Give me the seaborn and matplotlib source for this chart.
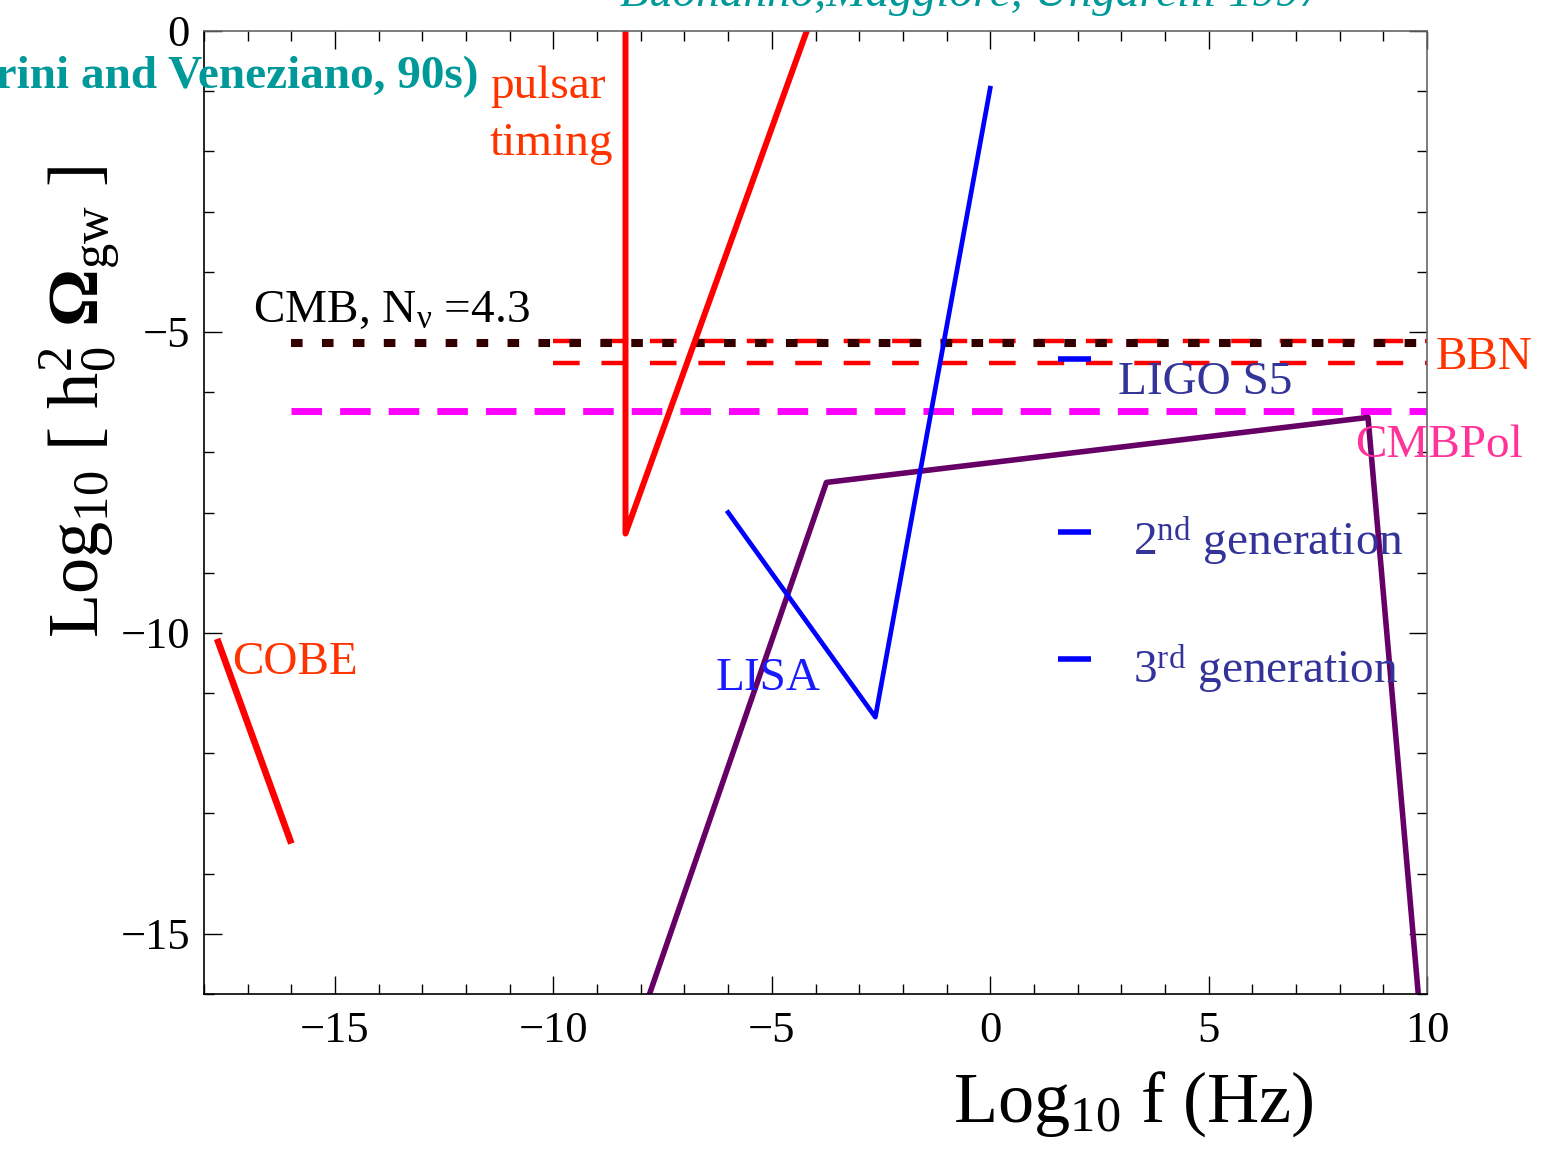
import matplotlib
matplotlib.use("Agg")
import matplotlib.pyplot as plt
import seaborn as sns
from matplotlib.ticker import MultipleLocator, FixedLocator

# ---------------- data ----------------
cobe_x = [-17.7, -16.0]
cobe_y = [-10.1, -13.5]

pulsar_x = [-8.35, -8.35, -4.2]
pulsar_y = [0.0, -8.35, 0.0]

lisa_x = [-6.0, -2.63, 0.0]
lisa_y = [-8.0, -11.4, -0.95]

theory_x = [-7.8, -3.75, 8.65, 9.8]
theory_y = [-16.0, -7.5, -6.42, -16.0]

cmb_x = [-16.0, 10.0]
cmb_y = [-5.19, -5.19]

bbn_x = [-10.0, 10.0]
bbn_upper_y = [-5.15, -5.15]
bbn_lower_y = [-5.52, -5.52]

cmbpol_x = [-16.0, 10.0]
cmbpol_y = [-6.32, -6.32]

ligo_s5_x = [1.56, 2.31]
ligo_s5_y = [-5.45, -5.45]
gen2_x = [1.56, 2.31]
gen2_y = [-8.32, -8.32]
gen3_x = [1.56, 2.31]
gen3_y = [-10.43, -10.43]

x_ticks = [-15, -10, -5, 0, 5, 10]
y_ticks = [0, -5, -10, -15]
x_lim = (-18, 10)
y_lim = (-16, 0)

# ---------------- style ----------------
sns.set_theme(style="ticks")
plt.rcParams["font.family"] = ["Liberation Serif", "DejaVu Serif"]
plt.rcParams["mathtext.fontset"] = "custom"
plt.rcParams["mathtext.rm"] = "Liberation Serif"
plt.rcParams["mathtext.it"] = "Liberation Serif:italic"
plt.rcParams["mathtext.bf"] = "Liberation Serif:bold"
plt.rcParams["axes.unicode_minus"] = True
plt.rcParams["text.color"] = "black"
plt.rcParams["axes.labelcolor"] = "black"
plt.rcParams["xtick.color"] = "black"
plt.rcParams["ytick.color"] = "black"

W, H = 1547, 1151
fig = plt.figure(figsize=(W / 100, H / 100), dpi=100)
ax = fig.add_axes([204 / W, 1 - 994 / H, (1427 - 204) / W, (994 - 31) / H])
ax.set_facecolor("white")


def line(x, y, color, lw, dash=None, cap="projecting"):
    sns.lineplot(x=x, y=y, ax=ax, color=color, linewidth=lw, sort=False,
                 estimator=None, legend=False)
    ln = ax.lines[-1]
    if dash is not None:
        ln.set_linestyle((0, dash))
        ln.set_dash_capstyle("butt")
    else:
        ln.set_solid_capstyle(cap)
    return ln


# horizontal bounds
line(cmbpol_x, cmbpol_y, "#FF00FF", 5.0, dash=(4.4, 2.6))
line(bbn_x, bbn_upper_y, "#FF0000", 3.2, dash=(6.0, 4.9))
line(bbn_x, bbn_lower_y, "#FF0000", 3.2, dash=(6.0, 4.9))
line(cmb_x, cmb_y, "#330000", 5.8, dash=(1.44, 2.4))

# curves
line(theory_x, theory_y, "#660066", 4.0)
line(lisa_x, lisa_y, "#0000FF", 3.4)
line(pulsar_x, pulsar_y, "#FF0000", 4.3)
line(cobe_x, cobe_y, "#FF0000", 4.8, cap="butt")
line(ligo_s5_x, ligo_s5_y, "#0000FF", 4.0, cap="butt")
line(gen2_x, gen2_y, "#0000FF", 4.0, cap="butt")
line(gen3_x, gen3_y, "#0000FF", 4.0, cap="butt")

ax.set_xlim(*x_lim)
ax.set_ylim(*y_lim)
ax.xaxis.set_major_locator(FixedLocator(x_ticks))
ax.yaxis.set_major_locator(FixedLocator(y_ticks))
ax.xaxis.set_minor_locator(MultipleLocator(1))
ax.yaxis.set_minor_locator(MultipleLocator(1))
ax.set_xticklabels([f"{t:d}".replace("-", "\u2212") for t in x_ticks])
ax.set_yticklabels([f"{t:d}".replace("-", "\u2212") for t in y_ticks])
ax.tick_params(which="both", direction="in", top=True, right=True,
               labelsize=32, colors="black", labelcolor="black", width=1.0)
ax.tick_params(which="major", length=13)
ax.tick_params(which="minor", length=7)
ax.tick_params(axis="x", which="major", pad=12)
ax.tick_params(axis="y", which="major", pad=10)
for side in ["left", "bottom"]:
    ax.spines[side].set_color("black")
    ax.spines[side].set_linewidth(1.2)
for side in ["top", "right"]:
    ax.spines[side].set_color("#666666")
    ax.spines[side].set_linewidth(1.2)
ax.set_xlabel("")
ax.set_ylabel("")


def ftext(xp, yp, s, **kw):
    fig.text(xp / W, 1 - yp / H, s, **kw)


# axis labels
ftext(1133, 1122, r"Log$_{10}$ f (Hz)", fontsize=52, ha="center",
      va="baseline", color="black")
ftext(80, 402, r"Log$_{10}$ [ h$_0^{2}$ $\mathbf{\Omega}_{\rm gw}$ ]",
      fontsize=52, ha="center", va="center", rotation=90, color="black")

# annotations
ftext(620, 6, "Buonanno,Maggiore, Ungarelli 1997", fontsize=34,
      color="#009999", style="italic", va="baseline")
ftext(478, 88, "(Gasperini and Veneziano, 90s)", fontsize=34,
      color="#009999", fontweight="bold", ha="right", va="baseline")
ftext(490, 98, "pulsar", fontsize=34, color="#FF3300", va="baseline")
ftext(490, 155, "timing", fontsize=34, color="#FF3300", va="baseline")
ftext(253, 322, r"CMB, N$_{\mathrm{\nu}}$ =4.3", fontsize=34, color="black",
      va="baseline")
ftext(1436, 369, "BBN", fontsize=34, color="#FF3300", va="baseline")
ftext(1118, 394, "LIGO S5", fontsize=34, color="#333399", va="baseline")
ftext(1355, 457, "CMBPol", fontsize=34, color="#FF3399", va="baseline")
ftext(1133, 555, r"2$^{\rm nd}$ generation", fontsize=34, color="#333399",
      va="baseline")
ftext(1133, 683, r"3$^{\rm rd}$ generation", fontsize=34, color="#333399",
      va="baseline")
ftext(716, 690, "LISA", fontsize=34, color="#1A1AFF", va="baseline")
ftext(232, 674, "COBE", fontsize=34, color="#FF3300", va="baseline")

fig.savefig("out.png", dpi=100)
